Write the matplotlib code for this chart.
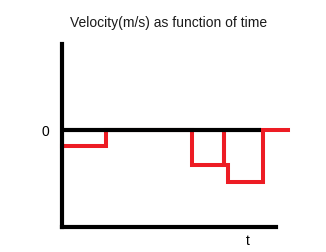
import matplotlib
matplotlib.use('Agg')
import matplotlib.pyplot as plt

matplotlib.rcParams['font.family'] = ['Liberation Sans', 'DejaVu Sans']

# hand drawn velocity steps (time, velocity)
time = [0, 4.4, 4.4, 13.0, 13.0, 16.2, 16.2, 16.2, 16.6, 16.6, 20.1, 20.1, 22.6]
velocity = [-1.6, -1.6, 0, 0, -3.5, -3.5, 0, -3.5, -3.5, -5.2, -5.2, 0, 0]
zero_line_t = [0, 19.9]
zero_line_v = [0, 0]

fig = plt.figure(figsize=(3.26, 2.53), dpi=100)
ax = fig.add_axes([62 / 326, 25 / 253, 214 / 326, 183 / 253])

ax.plot(time, velocity, color='#ed1c24', lw=2.9, clip_on=False,
        solid_joinstyle='miter', zorder=2)
ax.plot(zero_line_t, zero_line_v, color='black', lw=3.0,
        solid_capstyle='butt', clip_on=False, zorder=3)

ax.set_xlim(0, 21.4)
ax.set_ylim(-9.7, 8.6)

for side in ('top', 'right'):
    ax.spines[side].set_visible(False)
for side in ('left', 'bottom'):
    ax.spines[side].set_linewidth(3.0)
    ax.spines[side].set_capstyle('projecting')
    ax.spines[side].set_zorder(4)

ax.set_xticks([])
ax.set_yticks([0])
ax.set_yticklabels(['0'], fontsize=10)
ax.tick_params(axis='y', length=0, pad=9)

ax.set_xlabel('t', fontsize=10)
ax.xaxis.set_label_coords((248 - 62) / 214, -0.035)

ax.set_title('Velocity(m/s) as function of time', fontsize=10, pad=13,
             color='#1a1a1a')

fig.savefig('out.png', dpi=100)
